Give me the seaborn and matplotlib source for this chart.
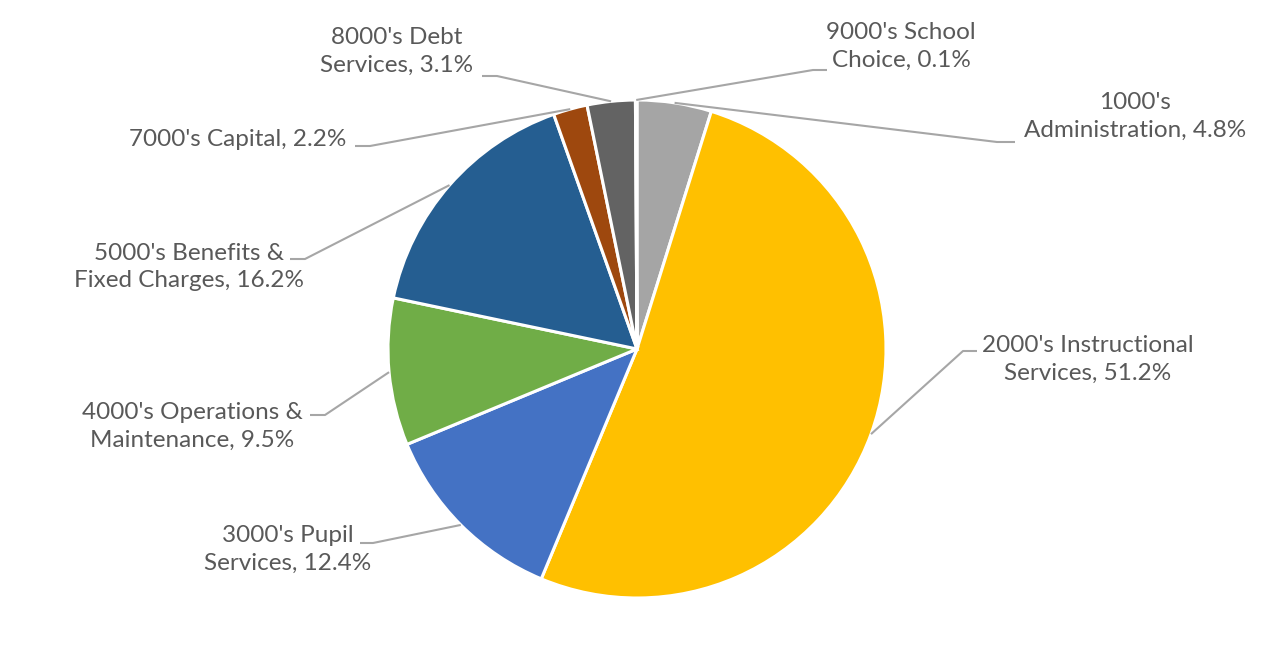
import matplotlib
matplotlib.use("Agg")
import matplotlib.pyplot as plt
import numpy as np
import seaborn as sns

# data
categorias = ["1000's\nAdministration", "2000's Instructional\nServices",
              "3000's Pupil\nServices", "4000's Operations &\nMaintenance",
              "5000's Benefits &\nFixed Charges", "7000's Capital",
              "8000's Debt\nServices", "9000's School\nChoice"]
percentuais = [4.8, 51.2, 12.4, 9.5, 16.2, 2.2, 3.1, 0.1]
cores = ["#A5A5A5", "#FFC000", "#4472C4", "#70AD47",
         "#255E91", "#9E480E", "#636363", "#997300"]

# layout (pixel coords of the 1263x663 canvas)
CENTRO = (637, 349)
RAIO = 249
pos_texto = [(1135, 116), (1088, 359), (288, 549), (192, 426),
             (189, 267), (238, 140), (397, 51), (901, 46)]
# leader line: elbow point, then point next to the text
guias = [((997, 142), (1015, 142)), ((963, 351), (977, 351)),
         ((373, 543), (360, 543)), ((325, 415), (310, 415)),
         ((305, 259), (290, 259)), ((370, 146), (355, 146)),
         ((497, 76), (482, 76)), ((813, 70), (827, 70))]

COR_TEXTO = "#595959"
COR_GUIA = "#A6A6A6"


def definir_tema():
    sns.set_theme(style="white")
    plt.rcParams['font.family'] = ['Lato', 'DejaVu Sans']


def gerar_plotagem():
    definir_tema()
    fig = plt.figure(figsize=(12.63, 6.63), dpi=100)
    ax = fig.add_axes([0, 0, 1, 1])
    ax.set_aspect('equal')
    ax.axis('off')

    fatias, _ = ax.pie(percentuais, colors=cores, center=CENTRO, radius=RAIO,
                       startangle=-90, counterclock=True,
                       wedgeprops=dict(edgecolor='white', linewidth=2.2))
    ax.set_xlim(0, 1263)
    ax.set_ylim(663, 0)

    for fatia, cat, pct, (tx, ty), (cotovelo, ponta) in zip(
            fatias, categorias, percentuais, pos_texto, guias):
        meio = np.deg2rad((fatia.theta1 + fatia.theta2) / 2)
        ancora = (CENTRO[0] + RAIO * np.cos(meio), CENTRO[1] + RAIO * np.sin(meio))
        ax.plot([ancora[0], cotovelo[0], ponta[0]],
                [ancora[1], cotovelo[1], ponta[1]],
                color=COR_GUIA, lw=1.5, solid_capstyle='butt', zorder=1)
        ax.text(tx, ty, f"{cat}, {pct}%", ha='center', va='center',
                fontsize=17.5, color=COR_TEXTO, linespacing=1.4)

    return fig


if __name__ == '__main__':
    fig = gerar_plotagem()
    fig.savefig('out.png', dpi=100)
